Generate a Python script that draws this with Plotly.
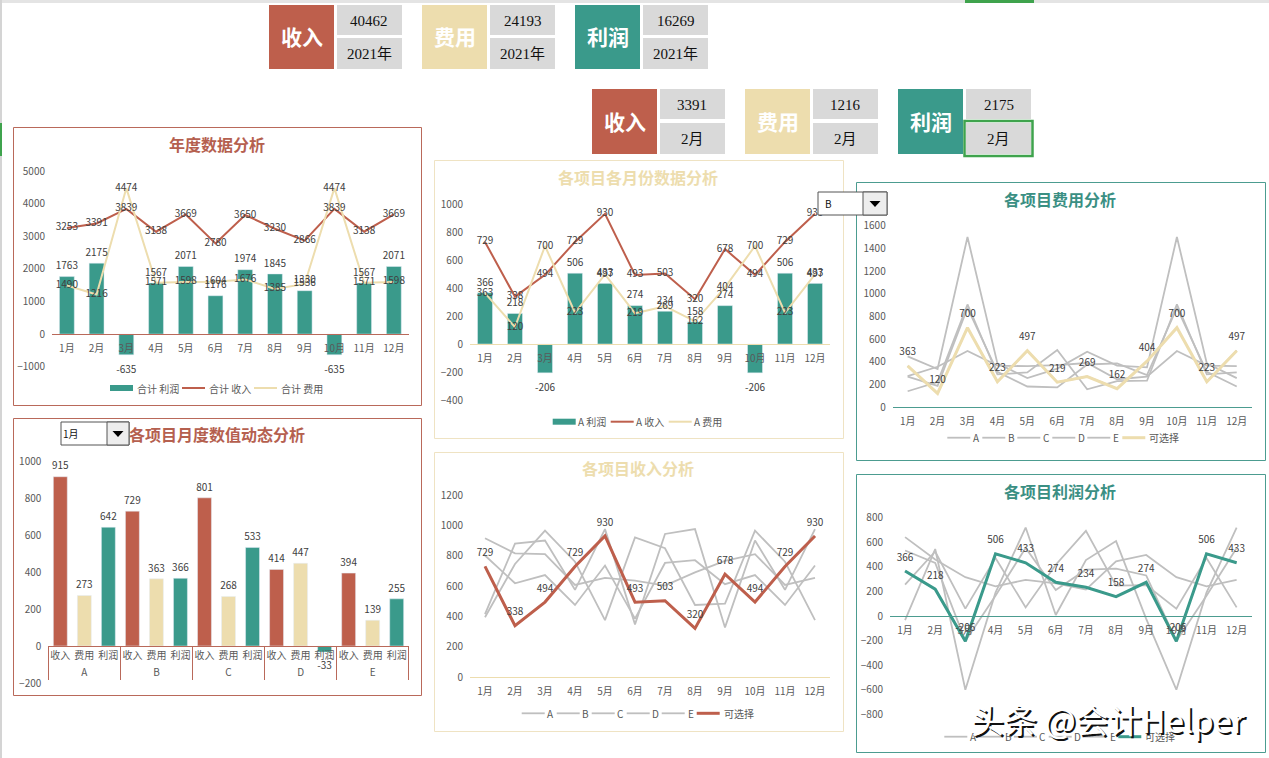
import plotly.graph_objects as go

W, H = 1269, 758
months = ["1月","2月","3月","4月","5月","6月","7月","8月","9月","10月","11月","12月"]

RED = "#BE5F4C"
TAN = "#EDDDAE"
TEAL = "#3A9A8B"
GRAY = "#BFBFBF"
BORDER_RED = "#B9695A"
BORDER_TAN = "#EFE3C3"
BORDER_TEAL = "#4C9C90"
TXT = "#595959"
LBL = "#404040"
CJK = "Noto Sans CJK SC"

# annual totals
total_rev = [3253,3391,3839,3138,3669,2780,3650,3230,2866,3839,3138,3669]
total_cost = [1490,1216,4474,1571,1598,1604,1676,1385,1536,4474,1571,1598]
total_profit = [1763,2175,-635,1567,2071,1176,1974,1845,1330,-635,1567,2071]

# by project
rev_A = [915,815,810,607,654,635,603,690,765,810,607,654]
rev_B = [729,338,494,729,930,493,503,320,678,494,729,930]
rev_C = [801,618,672,475,735,385,752,770,612,672,475,735]
rev_D = [414,880,900,575,975,347,943,975,327,900,575,975]
rev_E = [394,745,965,760,375,920,849,475,484,965,760,375]

cost_A = [273,355,494,365,360,370,388,245,268,494,365,360]
cost_B = [363,120,700,223,497,219,269,162,404,700,223,497]
cost_C = [268,186,875,310,181,173,375,385,282,875,310,181]
cost_D = [447,335,1500,385,255,339,488,365,350,1500,385,255]
cost_E = [139,220,905,288,305,503,156,228,232,905,288,305]

profit_A = [642,460,316,242,294,265,215,445,497,316,242,294]
profit_B = [366,218,-206,506,433,274,234,158,274,-206,506,433]
profit_C = [533,432,-203,165,554,212,377,385,330,-203,165,554]
profit_D = [-33,545,-600,190,720,8,455,610,-23,-600,190,720]
profit_E = [255,525,60,472,70,417,693,247,252,60,472,70]

# January by project
projects = ["A","B","C","D","E"]
measures = ["收入","费用","利润"]
jan_values = [915,273,642,729,363,366,801,268,533,414,447,-33,394,139,255]

# KPI cards
kpi_labels = ["收入","费用","利润"]
kpi_year = ["40462","24193","16269"]
kpi_month = ["3391","1216","2175"]


def X(px):
    return px / W


def Y(py):
    return 1 - py / H


fig = go.Figure()
shapes, annotations = [], []


def rect(x0, y0, x1, y1, fill=None, line=None, lw=1, layer="below"):
    shapes.append(dict(type="rect", xref="paper", yref="paper", x0=X(x0), x1=X(x1), y0=Y(y1), y1=Y(y0),
                       layer=layer, fillcolor=fill or "rgba(0,0,0,0)",
                       line=dict(color=line or "rgba(0,0,0,0)", width=lw if line else 0)))


def text(px, py, s, size, color, bold=False, family=CJK):
    annotations.append(dict(xref="paper", yref="paper", x=X(px), y=Y(py), text=f"<b>{s}</b>" if bold else s,
                            showarrow=False, xanchor="center", yanchor="middle",
                            font=dict(size=size, color=color, family=family)))


def panel(x0, y0, x1, y1, border, title, tx, ty, tcolor):
    rect(x0 + .5, y0 + .5, x1 + .5, y1 + .5, fill="white", line=border, lw=1)
    text(tx, ty, title, 16, tcolor, bold=True)


def axes(n, x0, x1, ytop, ybot, rng, dtick, line, count=12):
    zero = ybot - (0 - rng[0]) / (rng[1] - rng[0]) * (ybot - ytop)
    suffix = "" if n == 1 else str(n)
    fig.layout["xaxis" + suffix] = dict(
        domain=[X(x0), X(x1)], anchor="free", position=Y(zero), type="category",
        categoryorder="array", categoryarray=months, range=[-0.5, count - 0.5], autorange=False,
        showgrid=False, zeroline=False, showline=True, linecolor=line, linewidth=1,
        ticks="outside", ticklen=5, tickcolor="rgba(0,0,0,0)", tickangle=0,
        tickfont=dict(size=10, color=TXT, family=CJK), fixedrange=True)
    fig.layout["yaxis" + suffix] = dict(
        domain=[Y(ybot), Y(ytop)], anchor="x" + suffix, range=rng, dtick=dtick,
        showgrid=False, zeroline=False, showline=False,
        ticks="outside", ticklen=4, tickcolor="rgba(0,0,0,0)",
        tickfont=dict(size=10, color=TXT, family=CJK), fixedrange=True)
    return "x" + suffix, "y" + suffix


def legend_row(cy, start, step, seg, text_dx, items):
    """Compact legend row: (label, colour, thickness) entries laid out from `start`."""
    for i, (name, color, width) in enumerate(items):
        x0 = start + i * step
        rect(x0, cy - width / 2, x0 + seg, cy + width / 2, fill=color)
        last_wide = len(name) == 3 and i == len(items) - 1
        text(x0 + text_dx + (13 if last_wide else 0), cy, name, 10, TXT)


def line(x, y, name, color, width, xa, ya):
    fig.add_trace(go.Scatter(x=x, y=y, name=name, mode="lines", line=dict(color=color, width=width),
                             xaxis=xa, yaxis=ya, hoverinfo="skip"))


def center_labels(x, y, xa, ya):
    fig.add_trace(go.Scatter(x=x, y=y, mode="text", text=[str(v) for v in y], textposition="middle center",
                             cliponaxis=False, textfont=dict(size=10, color=LBL, family=CJK),
                             xaxis=xa, yaxis=ya, hoverinfo="skip"))


def off_labels(x, y, xa, ya, up, down=16):
    """Value labels above positive points and below negative ones; a hidden marker sets the gap."""
    fig.add_trace(go.Scatter(x=x, y=y, mode="markers+text", text=[str(v) for v in y],
                             textposition=["bottom center" if v < 0 else "top center" for v in y],
                             marker=dict(size=[down if v < 0 else up for v in y], opacity=0), cliponaxis=False,
                             textfont=dict(size=10, color=LBL, family=CJK),
                             xaxis=xa, yaxis=ya, hoverinfo="skip"))


def combo(n, prof, rev, cost, names, geom):
    xa, ya = axes(n, *geom)
    fig.add_trace(go.Bar(x=months, y=prof, name=names[0], marker_color=TEAL, xaxis=xa, yaxis=ya,
                         hoverinfo="skip", width=0.5))
    line(months, rev, names[1], RED, 2, xa, ya)
    line(months, cost, names[2], TAN, 2, xa, ya)
    center_labels(months, rev, xa, ya)
    center_labels(months, cost, xa, ya)
    off_labels(months, prof, xa, ya, 6)


def spaghetti(n, series, sel, color, geom):
    xa, ya = axes(n, *geom)
    for name, s in zip(projects, series):
        line(months, s, name, GRAY, 1.8, xa, ya)
    line(months, sel, "可选择", color, 3, xa, ya)
    fig.add_trace(go.Scatter(x=months, y=sel, mode="markers+text", text=[str(v) for v in sel],
                             textposition="top center", marker=dict(size=11, opacity=0), cliponaxis=False,
                             textfont=dict(size=10, color=LBL, family=CJK),
                             xaxis=xa, yaxis=ya, hoverinfo="skip"))


# ---------- sheet furniture ----------
rect(0, 0, 1269, 3, fill="#E4E4E4")
rect(965, 0, 1034, 3, fill="#3FA34D")
rect(0, 0, 2, 758, fill="#D4D4D4")
rect(0, 123, 2, 156, fill="#3FA34D")

# ---------- KPI cards ----------
cards_year = [(269, RED), (422, TAN), (575, TEAL)]
for (cx, col), lab, val in zip(cards_year, kpi_labels, kpi_year):
    rect(cx, 5, cx + 65, 69, fill=col)
    rect(cx + 68, 5, cx + 133, 35, fill="#D9D9D9")
    rect(cx + 68, 38, cx + 133, 69, fill="#D9D9D9")
    text(cx + 32.5, 36, lab, 21, "white", bold=True)
    text(cx + 100.5, 21, val, 15, "#111111", family="Liberation Serif")
    text(cx + 100.5, 54, "2021年", 15, "#111111", family=f"Liberation Serif, {CJK}")
cards_month = [(592, RED), (745, TAN), (898, TEAL)]
for (cx, col), lab, val in zip(cards_month, kpi_labels, kpi_month):
    rect(cx, 89, cx + 65, 154, fill=col)
    rect(cx + 68, 89, cx + 133, 119, fill="#D9D9D9")
    rect(cx + 68, 123, cx + 133, 154, fill="#D9D9D9")
    text(cx + 32.5, 121, lab, 21, "white", bold=True)
    text(cx + 100.5, 105, val, 15, "#111111", family="Liberation Serif")
    text(cx + 100.5, 139, "2月", 15, "#111111", family=f"Liberation Serif, {CJK}")
rect(964.5, 121, 1032.5, 156, line="#3FA34D", lw=2.5, layer="above")

# ---------- panels ----------
panel(13, 127, 421, 405, BORDER_RED, "年度数据分析", 217, 144, "#B5604F")
panel(13, 418, 421, 695, BORDER_RED, "各项目月度数值动态分析", 217, 434, "#B5604F")
panel(434, 160, 843, 438, BORDER_TAN, "各项目各月份数据分析", 638, 177, "#EDDDAE")
panel(434, 452, 843, 731, BORDER_TAN, "各项目收入分析", 638, 468, "#EDDDAE")
panel(856, 182, 1265, 460, BORDER_TEAL, "各项目费用分析", 1060, 199, "#3A8F83")
panel(856, 474, 1265, 752, BORDER_TEAL, "各项目利润分析", 1060, 491, "#3A8F83")

# ---------- charts ----------
combo(1, total_profit, total_rev, total_cost, ["合计 利润","合计 收入","合计 费用"],
      (52, 408.7, 171, 366.7, [-1000, 5000], 1000, BORDER_RED))
combo(2, profit_B, rev_B, cost_B, ["A 利润","A 收入","A 费用"],
      (470, 830, 204, 400, [-400, 1000], 200, TAN))
spaghetti(4, [rev_A, rev_B, rev_C, rev_D, rev_E], rev_B, RED,
          (470, 830, 495, 677, [0, 1200], 200, TAN))
spaghetti(5, [cost_A, cost_B, cost_C, cost_D, cost_E], cost_B, TAN,
          (892.7, 1251.7, 225.7, 407, [0, 1600], 200, BORDER_TEAL))
spaghetti(6, [profit_A, profit_B, profit_C, profit_D, profit_E], profit_B, TEAL,
          (890, 1251.7, 517.7, 714.3, [-800, 800], 200, BORDER_TEAL))

# legends
trio = [(TEAL, 6), (RED, 2), (TAN, 2)]
legend_row(388, 110, 72, 23, 47.5,
           [(n, c, w) for n, (c, w) in zip(["合计 利润","合计 收入","合计 费用"], trio)])
legend_row(421.7, 552.7, 58, 23, 39.5,
           [(n, c, w) for n, (c, w) in zip(["A 利润","A 收入","A 费用"], trio)])
for cy, start, step, col in [(713.3, 521.7, 35, RED), (437.7, 947.3, 35, TAN), (736.7, 944.3, 34.8, TEAL)]:
    legend_row(cy, start, step, 23, 29,
               [(p, GRAY, 1.8) for p in projects] + [("可选择", col, 3)])

# grouped bar chart with two-level category axis
level0 = [p for p in projects for _ in measures]
level1 = measures * len(projects)
xa, ya = axes(3, 48.3, 408.7, 461, 683, [-200, 1000], 200, BORDER_RED, count=15)
fig.layout["xaxis3"].update(type="multicategory", categoryorder="trace", categoryarray=None,
                            showdividers=True, dividercolor=BORDER_RED, dividerwidth=1, ticklen=6)
bar_cols = [RED, TAN, TEAL] * len(projects)
fig.add_trace(go.Bar(x=[level0, level1], y=jan_values, marker_color=bar_cols, width=0.58,
                     xaxis=xa, yaxis=ya, hoverinfo="skip"))
off_labels([level0, level1], jan_values, xa, ya, 6, down=14)

# ---------- drop-down widgets ----------
for x0, y0, x1, y1, bx, s in [(61, 422, 129, 445, 107, "1月"), (818, 192, 887, 215, 863, "B")]:
    rect(x0, y0, x1, y1, fill="white", line="#555555", lw=1, layer="above")
    rect(bx, y0, x1, y1, fill="#EDEDED", line="#555555", lw=1, layer="above")
    cx, cy = (bx + x1) / 2, (y0 + y1) / 2
    shapes.append(dict(type="path", xref="paper", yref="paper", fillcolor="black",
                       line=dict(width=0), layer="above",
                       path=f"M {X(cx-5.5)} {Y(cy-2.5)} L {X(cx+5.5)} {Y(cy-2.5)} L {X(cx)} {Y(cy+3.5)} Z"))
    text(x0 + 10, (y0 + y1) / 2, s, 10, "#111111")

# ---------- watermark ----------
text(1109.5, 720.5, "头条 @会计Helper", 33, "#111111")
text(1108, 719, "头条 @会计Helper", 33, "white")

fig.update_layout(width=W, height=H, margin=dict(l=0, r=0, t=0, b=0, autoexpand=False),
                  paper_bgcolor="white", plot_bgcolor="rgba(0,0,0,0)", barmode="overlay",
                  shapes=shapes, annotations=annotations, showlegend=False,
                  font=dict(family=CJK), hovermode=False)

fig.write_html("out.html", config=dict(displayModeBar=False),
               post_script="document.body.style.margin='0';document.body.style.overflow='hidden';")
